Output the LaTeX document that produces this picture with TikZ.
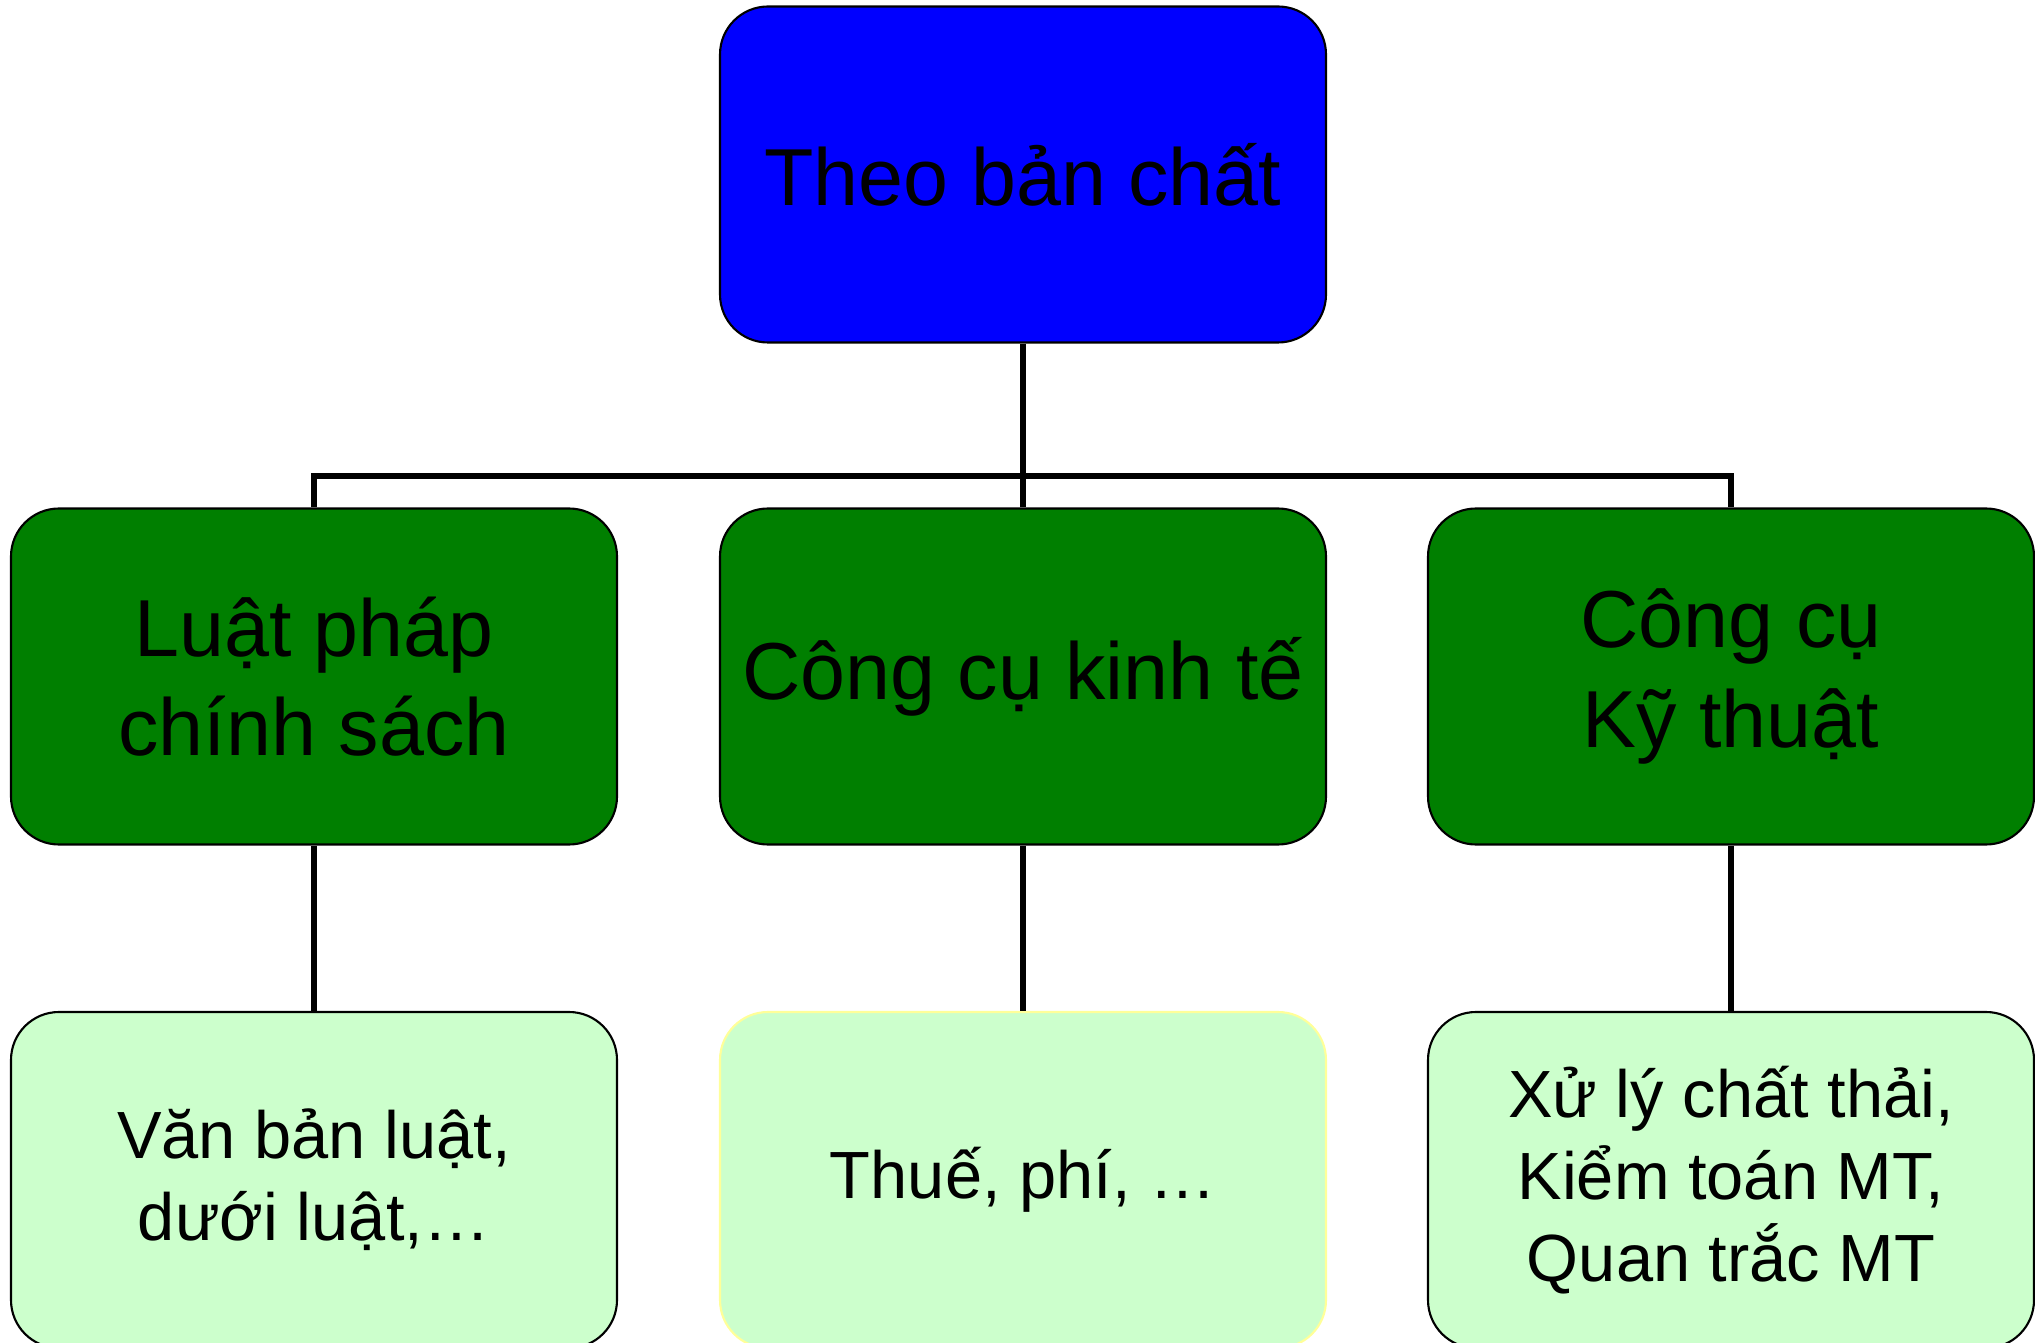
\documentclass[tikz,border=0pt]{standalone}
\usepackage{fontspec}
\setmainfont{Liberation Sans}

\definecolor{headblue}{HTML}{0000FF}
\definecolor{groupgreen}{HTML}{007F00}
\definecolor{leafgreen}{HTML}{CCFFCC}
\definecolor{leafedge}{HTML}{FFFF99}

\tikzset{
  box/.style={draw=black, line width=0.6pt, rounded corners=0.48cm, minimum width=6.06cm, minimum height=3.36cm, inner sep=0pt, align=center, text=black},
  headbox/.style={box, fill=headblue, font=\fontsize{23}{28.2}\selectfont},
  groupbox/.style={box, fill=groupgreen, font=\fontsize{23}{28.2}\selectfont},
  leafbox/.style={box, fill=leafgreen, font=\fontsize{19}{23.3}\selectfont},
  link/.style={draw=black, line width=1.7pt}
}

\begin{document}
\begin{tikzpicture}
        \useasboundingbox (0,0) rectangle (20.35,-13.43);
        % top level
        \node[headbox] (head) at (10.23,-1.745) {Theo bản chất};
        % second level
        \node[groupbox] (law) at (3.14,-6.765) {Luật pháp\\chính sách};
        \node[groupbox] (econ) at (10.23,-6.765) {Công cụ kinh tế};
        \node[groupbox] (tech) at (17.31,-6.765) {Công cụ\\Kỹ thuật};
        % third level
        \node[leafbox] (lawleaf) at (3.14,-11.80) {Văn bản luật,\\dưới luật,…};
        \node[leafbox, draw=leafedge] (econleaf) at (10.23,-11.80) {Thuế, phí, …};
        \node[leafbox] (techleaf) at (17.31,-11.80) {Xử lý chất thải,\\Kiểm toán MT,\\Quan trắc MT};
        % connectors
        \coordinate (bus) at (10.23,-4.76);
        \draw[link] (head.south) -- (econ.north);
        \draw[link] (law.north) |- (bus) -| (tech.north);
        \draw[link] (law.south) -- (lawleaf.north);
        \draw[link] (econ.south) -- (econleaf.north);
        \draw[link] (tech.south) -- (techleaf.north);
\end{tikzpicture}
\end{document}
